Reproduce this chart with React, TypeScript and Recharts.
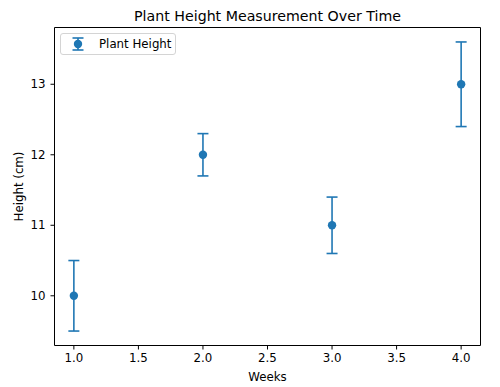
import React from "react";
import { ScatterChart, Scatter, XAxis, YAxis, ErrorBar, Legend, ReferenceLine } from "recharts";

// plant height readings, one per week, with symmetric errors
const weeks = [1, 2, 3, 4];
const heights = [10, 12, 11, 13];
const errors = [0.5, 0.3, 0.4, 0.6];
const xTicks = [1, 1.5, 2, 2.5, 3, 3.5, 4];
const yTicks = [10, 11, 12, 13];
const xDomain = [0.85, 4.15];
const yDomain = [9.295, 13.805];

const BLUE = "#1f77b4";
const FONT = "'DejaVu Sans', sans-serif";
const FS = 11.8;

const data = weeks.map((w, i) => ({ week: w, height: heights[i], err: errors[i] }));

const tickStyle = { fill: "#000", fontSize: FS, fontFamily: FONT };
const axisStroke = { stroke: "#000", strokeWidth: 1 };

// eslint-disable-next-line @typescript-eslint/no-explicit-any
const Dot = (props: any) => <circle cx={props.cx} cy={props.cy} r={4.2} fill={BLUE} />;

function LegendBox() {
  return (
    <div
      style={{
        display: "flex",
        alignItems: "center",
        width: 116,
        height: 22,
        boxSizing: "border-box",
        border: "1px solid #d4d4d4",
        borderRadius: 3,
        background: "rgba(255,255,255,0.8)",
        fontSize: FS,
        fontFamily: FONT,
        color: "#000",
      }}
    >
      <svg width={38} height={14} style={{ flexShrink: 0 }}>
        <line x1={17} y1={1} x2={17} y2={13} stroke={BLUE} strokeWidth={1.6} />
        <line x1={11.5} y1={1} x2={22.5} y2={1} stroke={BLUE} strokeWidth={1.6} />
        <line x1={11.5} y1={13} x2={22.5} y2={13} stroke={BLUE} strokeWidth={1.6} />
        <circle cx={17} cy={7} r={4.2} fill={BLUE} />
      </svg>
      <span style={{ whiteSpace: "nowrap" }}>Plant Height</span>
    </div>
  );
}

// eslint-disable-next-line @typescript-eslint/no-explicit-any
const YLabel = (props: any) => {
  const vb = props.viewBox || { x: 0, y: 0, width: 0, height: 0 };
  const cx = vb.x + 19;
  const cy = vb.y + vb.height / 2;
  return (
    <text
      x={cx}
      y={cy}
      transform={`rotate(-90 ${cx} ${cy})`}
      textAnchor="middle"
      dominantBaseline="central"
      fill="#000"
      fontSize={FS}
      fontFamily={FONT}
    >
      Height (cm)
    </text>
  );
};

export default function App() {
  return (
    <div style={{ position: "absolute", left: 0, top: 0, width: 500, height: 387, background: "#fff", fontFamily: FONT }}>
      <ScatterChart width={500} height={387} margin={{ top: 27.5, right: 19.5, left: 0, bottom: 0 }}>
        <XAxis
          type="number"
          dataKey="week"
          domain={xDomain}
          allowDataOverflow
          ticks={xTicks}
          tickFormatter={(v: number) => v.toFixed(1)}
          height={41.5}
          tickSize={4}
          tickMargin={4}
          tick={tickStyle}
          tickLine={axisStroke}
          axisLine={axisStroke}
          label={{ value: "Weeks", position: "insideBottom", offset: 6, fill: "#000", fontSize: FS, fontFamily: FONT }}
        />
        <YAxis
          type="number"
          dataKey="height"
          domain={yDomain}
          allowDataOverflow
          ticks={yTicks}
          width={54.5}
          tickSize={4}
          tickMargin={5}
          tick={tickStyle}
          tickLine={axisStroke}
          axisLine={axisStroke}
          label={{ content: YLabel }}
        />
        {/* top and right spines, title sits on the top one */}
        <ReferenceLine
          y={yDomain[1]}
          stroke="#000"
          strokeWidth={1}
          label={{ value: "Plant Height Measurement Over Time", position: "top", offset: 7, fill: "#000", fontSize: 14.2, fontFamily: FONT }}
        />
        <ReferenceLine x={xDomain[1]} stroke="#000" strokeWidth={1} />
        <Legend
          layout="horizontal"
          verticalAlign="middle"
          align="center"
          content={() => <LegendBox />}
          wrapperStyle={{ top: 33, left: 60, width: 116, height: 22 }}
        />
        <Scatter name="Plant Height" data={data} dataKey="height" fill={BLUE} shape={Dot} isAnimationActive={false}>
          <ErrorBar dataKey="err" direction="y" width={5.5} stroke={BLUE} strokeWidth={1.6} isAnimationActive={false} />
        </Scatter>
      </ScatterChart>
    </div>
  );
}
